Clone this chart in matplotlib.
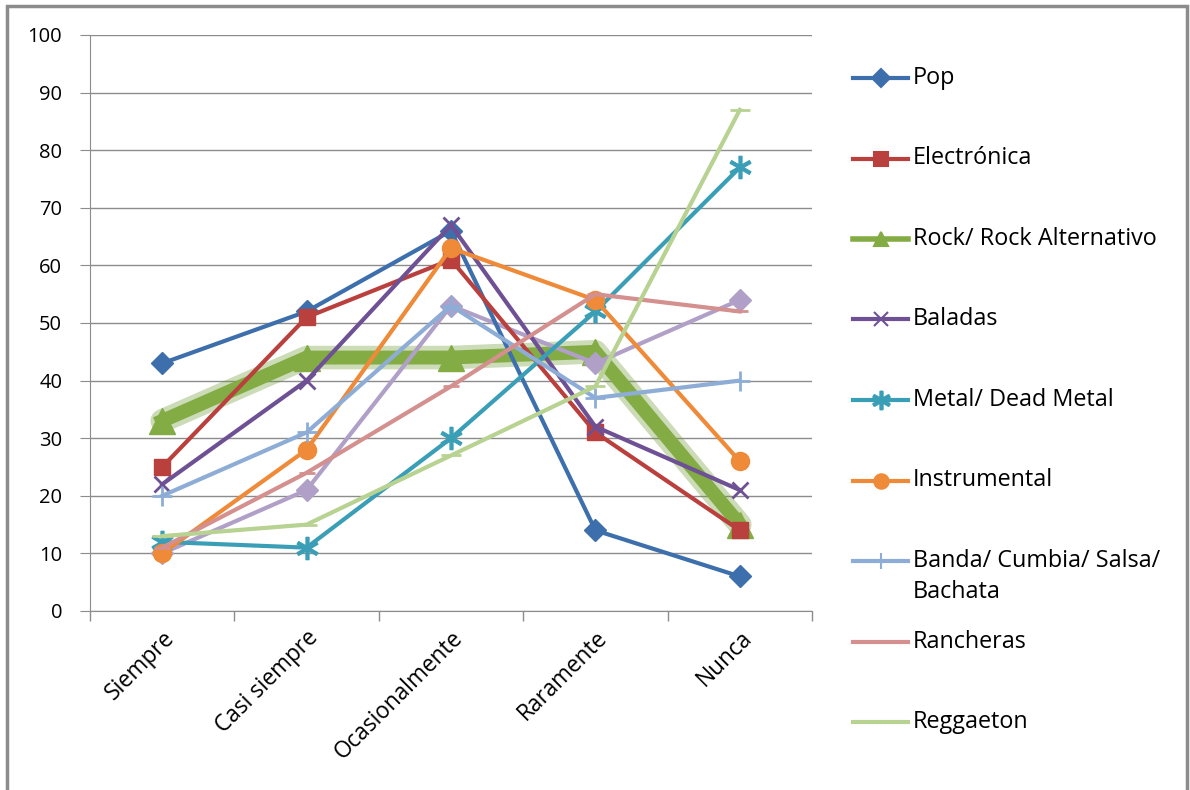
import numpy as np
import matplotlib
matplotlib.use("Agg")
import matplotlib.pyplot as plt
from matplotlib.lines import Line2D
from matplotlib.patches import Rectangle
from matplotlib.transforms import offset_copy

plt.rcParams['font.family'] = ['Open Sans', 'DejaVu Sans']

categories = ["Siempre", "Casi siempre", "Ocasionalmente", "Raramente", "Nunca"]

pop = [43, 52, 66, 14, 6]
electronica = [25, 51, 61, 31, 14]
rock = [33, 44, 44, 45, 15]
baladas = [22, 40, 67, 32, 21]
metal = [12, 11, 30, 52, 77]
instrumental = [10, 28, 63, 54, 26]
banda = [20, 31, 53, 37, 40]
rancheras = [11, 24, 39, 55, 52]
reggaeton = [13, 15, 27, 39, 87]
sin_nombre = [10, 21, 53, 43, 54]  # lavender series, not in the legend

series = [
    ("Pop", pop, "#3E6FAD", "D", 11),
    ("Electrónica", electronica, "#B9403D", "s", 12),
    ("Rock/ Rock Alternativo", rock, "#84AC45", "^", 13),
    ("Baladas", baladas, "#6E5095", "x", 12),
    ("Metal/ Dead Metal", metal, "#3A9FB6", "$\\ast$", 16),
    ("Instrumental", instrumental, "#EE8A38", "o", 13),
    ("Banda/ Cumbia/ Salsa/\nBachata", banda, "#8EADD6", "+", 14),
    ("Rancheras", rancheras, "#D4908E", "_", 12),
    ("Reggaeton", reggaeton, "#B8D292", "_", 14),
]

fig = plt.figure(figsize=(11.9, 7.9), dpi=100)
ax = fig.add_axes([90 / 1190, 1 - 611 / 790, (812 - 90) / 1190, (611 - 35) / 790])

x = np.arange(len(categories))

# lavender first so the others sit on top
ax.plot(x, sin_nombre, color="#B0A0C8", lw=3, marker="D", ms=11, zorder=3)
for name, vals, col, mk, ms in series:
    if name.startswith("Rock"):
        # soft glow under the thick rock line
        ax.plot(x, vals, color="#6F9A35", lw=17, alpha=0.35, solid_capstyle="round",
                solid_joinstyle="round", zorder=2)
        ax.plot(x, vals, color=col, lw=10, marker=mk, ms=ms + 6,
                solid_joinstyle="round", zorder=2)
    else:
        mew = 2 if mk in ("x", "+", "_") else 1
        ax.plot(x, vals, color=col, lw=3, marker=mk, ms=ms, mew=mew, zorder=4)

ax.set_xlim(-0.5, len(categories) - 0.5)
ax.set_ylim(0, 100)
ax.set_yticks(np.arange(0, 101, 10))
ax.set_xticks(x)
ax.set_xticks(np.arange(-0.5, len(categories), 1), minor=True)
ax.set_xticklabels(categories, rotation=45, ha="right", rotation_mode="anchor", fontsize=16.3)
ax.tick_params(axis="x", which="major", length=0, pad=11)
ax.tick_params(axis="x", which="minor", length=7, color="#8C8C8C", width=1)
ax.tick_params(axis="y", length=7, color="#8C8C8C", labelsize=14.5, pad=13)
ax.grid(axis="y", color="#8C8C8C", lw=1)
for s in ["top", "right"]:
    ax.spines[s].set_visible(False)
for s in ["left", "bottom"]:
    ax.spines[s].set_color("#8C8C8C")
ax.set_axisbelow(True)

# legend, Excel style (handle aligned with the first line of text)
y0 = 1 - 78 / 790
step = 80.5 / 790
for i, (name, vals, col, mk, ms) in enumerate(series):
    yy = y0 - i * step
    lw = 4 if name.startswith("Rock") else 3
    fig.add_artist(Line2D([853 / 1190, 908 / 1190], [yy, yy], color=col, lw=lw))
    if mk != "_":
        fig.add_artist(Line2D([880.5 / 1190], [yy], color=col, marker=mk,
                              ms=ms * 0.8, mew=1.5, lw=0))
    if "\n" in name:
        fig.text(913 / 1190, yy, name, fontsize=16.8, va="top", ha="left", linespacing=1.4,
                 transform=offset_copy(fig.transFigure, fig=fig, y=12, units="dots"))
    else:
        fig.text(913 / 1190, yy, name, fontsize=16.8, va="center", ha="left")

fig.add_artist(Rectangle((7 / 1190, -0.01), 1180 / 1190, 1 - 6 / 790 + 0.01,
                         fill=False, ec="#8C8C8C", lw=2.5, transform=fig.transFigure))

fig.savefig("out.png", dpi=100)
